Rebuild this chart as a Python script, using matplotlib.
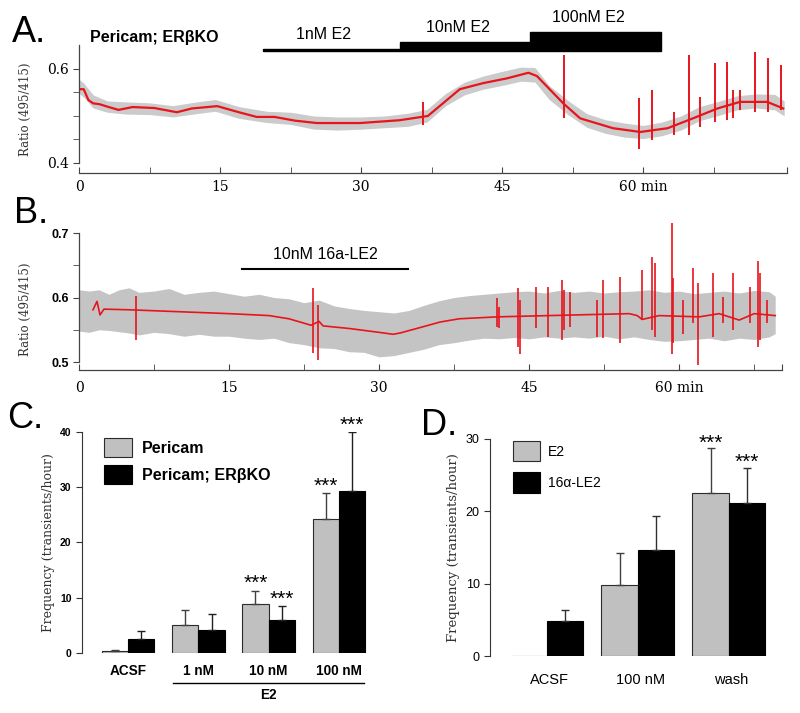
import numpy as np
import matplotlib
matplotlib.use('Agg')
from matplotlib import pyplot as plt
from matplotlib.patches import Rectangle

SANS = ['Liberation Sans', 'DejaVu Sans']
SERIF = ['DejaVu Serif']
RED = '#e8141c'
BAR_GRAY = '#c0c0c0'

# ---- panel A: Pericam; ERbKO, ratio trace ----
a_red_t = [0, 0.5, 1.0, 1.5, 2.2, 3, 4.2, 5.7, 8, 10.4, 12, 14.7, 17, 18.9, 20.8, 23,
           25.3, 29.9, 34.1, 37.1, 40.5, 43, 45.5, 47.8, 48.7, 51.5, 53.3, 56.8, 59.7,
           62.6, 65.3, 67.9, 70.3, 73.2, 74.9]
a_red_v = [0.557, 0.557, 0.534, 0.527, 0.525, 0.520, 0.513, 0.519, 0.517, 0.508, 0.516,
           0.521, 0.508, 0.498, 0.498, 0.490, 0.485, 0.485, 0.491, 0.500, 0.557, 0.570,
           0.580, 0.592, 0.585, 0.527, 0.495, 0.474, 0.466, 0.474, 0.495, 0.516, 0.530,
           0.530, 0.516]
a_gray_t = [0, 0.5, 1.5, 3, 5, 7.5, 10, 12.5, 14.5, 17, 20, 22.5, 25, 27.5, 30, 32.5, 35,
            37, 39, 41, 43, 45, 47, 48.5, 50, 52, 54, 56, 58, 60, 62, 64, 66, 68, 70, 72,
            74, 75]
a_gray_hi = [0.578, 0.570, 0.545, 0.532, 0.530, 0.528, 0.522, 0.530, 0.535, 0.520, 0.510,
             0.508, 0.500, 0.498, 0.498, 0.500, 0.506, 0.514, 0.548, 0.572, 0.585, 0.595,
             0.604, 0.603, 0.565, 0.533, 0.505, 0.492, 0.485, 0.480, 0.487, 0.500, 0.520,
             0.531, 0.543, 0.547, 0.546, 0.532]
a_gray_lo = [0.548, 0.540, 0.517, 0.508, 0.504, 0.503, 0.498, 0.505, 0.510, 0.495, 0.486,
             0.482, 0.472, 0.470, 0.472, 0.475, 0.478, 0.487, 0.522, 0.545, 0.557, 0.565,
             0.574, 0.572, 0.535, 0.503, 0.476, 0.463, 0.455, 0.452, 0.458, 0.470, 0.490,
             0.501, 0.513, 0.517, 0.513, 0.500]
a_spike_t = [36.6, 51.6, 59.6, 60.9, 63.3, 64.9, 66.0, 67.6, 68.9, 69.6, 70.3, 71.9, 73.3, 74.7]
a_spike_hi = [0.530, 0.630, 0.538, 0.555, 0.509, 0.630, 0.540, 0.613, 0.615, 0.555, 0.555,
              0.636, 0.623, 0.609]
a_spike_lo = [0.481, 0.496, 0.430, 0.449, 0.460, 0.460, 0.477, 0.487, 0.491, 0.496, 0.513,
              0.509, 0.509, 0.513]
a_drugs = ['1nM E2', '10nM E2', '100nM E2']
a_drug_start = [19.6, 34.1, 48.0]
a_drug_end = [34.1, 48.0, 61.9]

# ---- panel B: 10nM 16a-LE2 trace ----
b_red_t = [1.4, 1.8, 2.1, 2.5, 5, 10, 15, 19, 21, 23.2, 24.0, 24.4, 27, 30, 31.4, 32.1, 34,
           36.1, 38, 41.8, 47, 55, 55.8, 56.3, 58, 62, 64, 66, 67.5, 69.6]
b_red_v = [0.581, 0.594, 0.573, 0.582, 0.581, 0.578, 0.575, 0.572, 0.567, 0.557, 0.563,
           0.556, 0.552, 0.546, 0.543, 0.545, 0.553, 0.562, 0.567, 0.570, 0.572, 0.575,
           0.572, 0.566, 0.572, 0.570, 0.575, 0.565, 0.575, 0.572]
b_gray_t = [0, 1, 2, 3, 4, 5, 6, 7.5, 9, 10.5, 12, 13.5, 15, 16.5, 18, 19.5, 21, 22.5, 24,
            25.5, 27, 28.5, 30, 31.5, 33, 34.5, 36, 37.5, 39, 40.5, 42, 43.5, 45, 46.5, 48,
            49.5, 51, 52.5, 54, 55.5, 57, 58.5, 60, 61.5, 63, 64.5, 66, 67.5, 69, 69.6]
b_gray_hi = [0.612, 0.610, 0.612, 0.605, 0.612, 0.615, 0.608, 0.610, 0.614, 0.605, 0.608,
             0.610, 0.606, 0.602, 0.605, 0.600, 0.598, 0.592, 0.596, 0.587, 0.583, 0.580,
             0.578, 0.576, 0.580, 0.588, 0.595, 0.600, 0.603, 0.605, 0.607, 0.609, 0.610,
             0.607, 0.611, 0.608, 0.610, 0.607, 0.609, 0.610, 0.612, 0.608, 0.610, 0.606,
             0.608, 0.610, 0.607, 0.611, 0.609, 0.602]
b_gray_lo = [0.548, 0.546, 0.550, 0.549, 0.547, 0.545, 0.542, 0.546, 0.544, 0.540, 0.543,
             0.540, 0.540, 0.537, 0.535, 0.537, 0.530, 0.527, 0.522, 0.521, 0.516, 0.515,
             0.508, 0.510, 0.515, 0.520, 0.527, 0.530, 0.534, 0.537, 0.536, 0.538, 0.536,
             0.539, 0.537, 0.539, 0.537, 0.540, 0.536, 0.539, 0.535, 0.532, 0.533, 0.535,
             0.537, 0.533, 0.537, 0.535, 0.539, 0.544]
b_spike_t = [5.7, 23.4, 23.9, 41.8, 42.0, 43.9, 44.1, 45.7, 46.9, 48.3, 48.5, 49.1, 51.8,
             52.4, 54.1, 56.3, 57.3, 57.6, 59.3, 59.4, 60.4, 61.4, 61.9, 63.4, 64.4, 65.4,
             67.1, 67.9, 68.1, 68.8]
b_spike_hi = [0.602, 0.615, 0.588, 0.599, 0.586, 0.614, 0.596, 0.617, 0.617, 0.627, 0.612,
              0.609, 0.596, 0.627, 0.632, 0.643, 0.663, 0.653, 0.715, 0.630, 0.596, 0.645,
              0.622, 0.638, 0.601, 0.638, 0.617, 0.656, 0.638, 0.596]
b_spike_lo = [0.534, 0.514, 0.503, 0.555, 0.552, 0.524, 0.513, 0.552, 0.539, 0.534, 0.550,
              0.555, 0.539, 0.537, 0.529, 0.565, 0.550, 0.539, 0.513, 0.529, 0.544, 0.560,
              0.495, 0.539, 0.560, 0.550, 0.560, 0.524, 0.534, 0.560]
b_drug = '10nM 16a-LE2'
b_drug_start, b_drug_end = 16.3, 32.9

# ---- panel C: transient frequency, Pericam vs Pericam; ERbKO ----
c_groups = ['ACSF', '1 nM', '10 nM', '100 nM']
c_pericam = [0.3, 5.1, 8.9, 24.3]
c_pericam_err = [0.3, 2.6, 2.4, 4.7]
c_ko = [2.5, 4.2, 6.0, 29.4]
c_ko_err = [1.4, 2.8, 2.5, 10.6]
c_sig_pericam = ['', '', '***', '***']
c_sig_ko = ['', '', '***', '***']

# ---- panel D: E2 vs 16a-LE2 ----
d_groups = ['ACSF', '100 nM', 'wash']
d_e2 = [0.0, 9.8, 22.5]
d_e2_err = [0.0, 4.5, 6.2]
d_le2 = [4.9, 14.6, 21.1]
d_le2_err = [1.5, 4.7, 4.9]
d_sig_e2 = ['', '', '***']
d_sig_le2 = ['', '', '***']


def style_trace_axis(ax, xmax, bottom_offset):
    for s in ['top', 'right']:
        ax.spines[s].set_visible(False)
    ax.spines['bottom'].set_position(('outward', bottom_offset))
    for s in ['left', 'bottom']:
        ax.spines[s].set_linewidth(0.9)
        ax.spines[s].set_color('#444444')
    ax.set_xticks([0, 15, 30, 45, 60, xmax], ['0', '15', '30', '45', '60 min', ''])
    ax.set_xticks(np.arange(7.5, xmax, 15), minor=True)
    ax.tick_params(axis='x', which='both', direction='in', length=4, color='#444444')
    ax.tick_params(axis='y', which='both', direction='out', length=4, color='#444444')
    for lab in ax.get_xticklabels():
        lab.set_family(SERIF)
        lab.set_fontsize(10)


def main():
    fig = plt.figure(figsize=(8, 7.13), dpi=100)

    # panel A
    axA = fig.add_axes([0.09875, 0.7714, 0.885, 0.1648])
    axA.fill_between(a_gray_t, a_gray_lo, a_gray_hi, color='#cbcbcb', lw=0)
    axA.plot(a_red_t, a_red_v, color=RED, lw=1.6)
    axA.vlines(a_spike_t, a_spike_lo, a_spike_hi, color=RED, lw=1.4)
    axA.set_xlim(0, 75.3)
    axA.set_ylim(0.4, 0.65)
    style_trace_axis(axA, 75.3, 7)
    axA.tick_params(axis='x', pad=5)
    axA.set_yticks([0.4, 0.6], ['0.4', '0.6'])
    axA.set_yticks([0.45, 0.5, 0.55], minor=True)
    for lab in axA.get_yticklabels():
        lab.set_family(SERIF)
        lab.set_fontsize(10)
    axA.set_ylabel('Ratio (495/415)', family=SERIF, fontsize=8.5, color='#333333')
    axA.yaxis.set_label_coords(-0.066, 0.46)
    axA.text(1.2, 0.657, 'Pericam; ER\u03b2KO', family=SANS, fontsize=11.5,
             fontweight='bold', va='baseline')
    thick = [0.0045, 0.019, 0.040]
    for name, t0, t1, h in zip(a_drugs, a_drug_start, a_drug_end, thick):
        axA.add_patch(Rectangle((t0, 0.638), t1 - t0, h, color='black', clip_on=False))
        axA.annotate(name, ((t0 + t1) / 2 - 0.8, 0.638 + h), xytext=(0, 5),
                     textcoords='offset points', ha='center', va='bottom',
                     family=SANS, fontsize=11.5, annotation_clip=False)

    # panel B
    axB = fig.add_axes([0.09875, 0.4832, 0.879, 0.2081])
    axB.fill_between(b_gray_t, b_gray_lo, b_gray_hi, color='#c4c4c4', lw=0)
    axB.plot(b_red_t, b_red_v, color=RED, lw=1.2)
    axB.vlines(b_spike_t, b_spike_lo, b_spike_hi, color=RED, lw=1.2)
    axB.set_xlim(0, 70.3)
    axB.set_ylim(0.49, 0.72)
    style_trace_axis(axB, 70.3, 1)
    axB.spines['left'].set_bounds(0.5, 0.7)
    axB.tick_params(axis='x', pad=8)
    axB.set_yticks([0.5, 0.6, 0.7], ['0.5', '0.6', '0.7'])
    axB.set_yticks([0.55, 0.65], minor=True)
    for lab in axB.get_yticklabels():
        lab.set_family(SANS)
        lab.set_fontsize(9)
        lab.set_fontweight('bold')
    axB.set_ylabel('Ratio (495/415)', family=SERIF, fontsize=8.5, color='#333333')
    axB.yaxis.set_label_coords(-0.067, 0.40)
    axB.plot([b_drug_start, b_drug_end], [0.644, 0.644], color='black', lw=1.5,
             clip_on=False)
    axB.annotate(b_drug, ((b_drug_start + b_drug_end) / 2, 0.644), xytext=(0, 5),
                 textcoords='offset points', ha='center', va='bottom',
                 family=SANS, fontsize=11.5, annotation_clip=False)

    # panel C
    axC = fig.add_axes([0.1025, 0.0842, 0.365, 0.3099])
    x = np.arange(len(c_groups))
    w = 0.375
    axC.bar(x - w / 2, c_pericam, w, color=BAR_GRAY, edgecolor='#2b2b2b', lw=0.8,
            label='Pericam')
    axC.bar(x + w / 2, c_ko, w, color='black', edgecolor='black', lw=0.8,
            label='Pericam; ER\u03b2KO')
    axC.errorbar(x - w / 2, c_pericam, yerr=[np.zeros(len(x)), c_pericam_err], fmt='none',
                 ecolor='#404040', elinewidth=1, capsize=3.2, capthick=1)
    axC.errorbar(x + w / 2, c_ko, yerr=[np.zeros(len(x)), c_ko_err], fmt='none',
                 ecolor='#202020', elinewidth=1, capsize=3.2, capthick=1)
    for xi, m, e, s in zip(x - w / 2, c_pericam, c_pericam_err, c_sig_pericam):
        axC.annotate(s, (xi, m + e), xytext=(0, 1), textcoords='offset points',
                     ha='center', va='baseline', family=SANS, fontsize=15)
    for xi, m, e, s in zip(x + w / 2, c_ko, c_ko_err, c_sig_ko):
        axC.annotate(s, (xi, m + e), xytext=(0, 1), textcoords='offset points',
                     ha='center', va='baseline', family=SANS, fontsize=15)
    axC.set_xlim(-0.657, 3.5)
    axC.set_ylim(0, 40)
    for s in ['top', 'right', 'bottom']:
        axC.spines[s].set_visible(False)
    axC.spines['left'].set_color('#333333')
    axC.set_xticks(x, c_groups, family=SANS, fontsize=9.8, fontweight='bold')
    axC.tick_params(axis='x', length=0, pad=8)
    axC.set_yticks([0, 10, 20, 30, 40])
    axC.tick_params(axis='y', length=4, color='#333333', labelsize=7.5)
    for lab in axC.get_yticklabels():
        lab.set_family(SANS)
        lab.set_fontweight('bold')
    axC.set_ylabel('Frequency (transients/hour)', family=SERIF, fontsize=9, color='#333333')
    axC.plot([0.643, 3.357], [-5.4, -5.4], color='black', lw=1, clip_on=False)
    axC.text(2, -7.6, 'E2', ha='center', va='center', family=SANS, fontsize=9.8,
             fontweight='bold')
    axC.legend(loc='upper left', bbox_to_anchor=(0.075, 0.975), frameon=False,
               borderpad=0, borderaxespad=0, handlelength=1.75, handleheight=1.5,
               labelspacing=0.5, handletextpad=0.63,
               prop={'family': SANS, 'size': 11.5, 'weight': 'bold'})

    # panel D
    axD = fig.add_axes([0.6125, 0.0799, 0.361, 0.3044])
    x = np.arange(len(d_groups))
    w = 0.4
    axD.bar(x - w / 2, d_e2, w, color=BAR_GRAY, edgecolor='#2b2b2b', lw=0.8, label='E2')
    axD.bar(x + w / 2, d_le2, w, color='black', edgecolor='black', lw=0.8,
            label='16\u03b1-LE2')
    has_err = np.array(d_e2_err) > 0
    axD.errorbar((x - w / 2)[has_err], np.array(d_e2)[has_err],
                 yerr=[np.zeros(has_err.sum()), np.array(d_e2_err)[has_err]], fmt='none',
                 ecolor='#404040', elinewidth=1, capsize=3.2, capthick=1)
    axD.errorbar(x + w / 2, d_le2, yerr=[np.zeros(len(x)), d_le2_err], fmt='none',
                 ecolor='#303030', elinewidth=1, capsize=3.2, capthick=1)
    for xi, m, e, s in zip(x - w / 2, d_e2, d_e2_err, d_sig_e2):
        axD.annotate(s, (xi, m + e), xytext=(0, 0), textcoords='offset points',
                     ha='center', va='baseline', family=SANS, fontsize=15)
    for xi, m, e, s in zip(x + w / 2, d_le2, d_le2_err, d_sig_le2):
        axD.annotate(s, (xi, m + e), xytext=(0, 0), textcoords='offset points',
                     ha='center', va='baseline', family=SANS, fontsize=15)
    axD.set_xlim(-0.626, 2.55)
    axD.set_ylim(0, 30)
    for s in ['top', 'right', 'bottom']:
        axD.spines[s].set_visible(False)
    axD.spines['left'].set_color('#333333')
    axD.set_xticks(x + 0.03, d_groups, family=SANS, fontsize=10.5)
    axD.tick_params(axis='x', length=0, pad=12)
    axD.set_yticks([0, 10, 20, 30])
    axD.tick_params(axis='y', length=4, color='#333333', labelsize=9)
    for lab in axD.get_yticklabels():
        lab.set_family(SANS)
    axD.set_ylabel('Frequency (transients/hour)', family=SERIF, fontsize=9.5,
                   color='#333333')
    axD.legend(loc='upper left', bbox_to_anchor=(0.08, 0.99), frameon=False,
               borderpad=0, borderaxespad=0, handlelength=1.95, handleheight=1.87,
               labelspacing=0.79, handletextpad=0.58,
               prop={'family': SANS, 'size': 10})

    # panel letters
    for letter, px, py in [('A.', 12, 42), ('B.', 14, 223), ('C.', 7, 428), ('D.', 421, 435)]:
        fig.text(px / 800, 1 - py / 713, letter, family=SANS, fontsize=26, va='baseline')

    fig.savefig('out.png', dpi=100)


if __name__ == '__main__':
    main()
